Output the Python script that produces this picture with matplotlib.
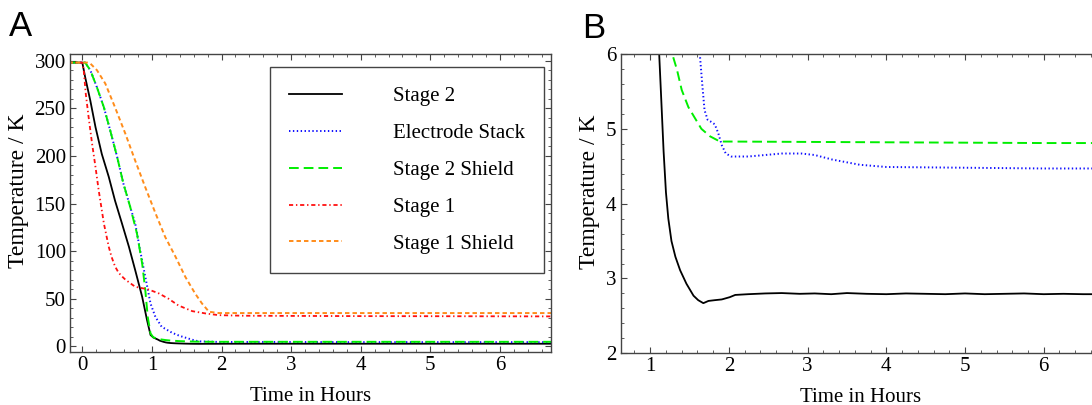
import matplotlib
matplotlib.use("Agg")
import matplotlib.pyplot as plt
from matplotlib.ticker import MultipleLocator

# ---------------- data (time in hours, temperature in K) ----------------
stage2_t = [-0.2, 0.0, 0.04, 0.115, 0.19, 0.28, 0.38, 0.47, 0.57, 0.67, 0.76, 0.86, 0.93, 0.98,
            1.02, 1.06, 1.09, 1.114, 1.14, 1.17, 1.20, 1.23, 1.27, 1.32, 1.38, 1.46, 1.55, 1.61, 1.675,
            1.74, 1.82, 1.91, 2.01, 2.08, 2.245, 2.46, 2.67, 2.9, 3.09, 3.3, 3.5, 3.75, 4.0, 4.25,
            4.5, 4.75, 5.0, 5.25, 5.5, 5.75, 6.0, 6.25, 6.5, 6.75]
stage2_T = [298, 298, 283, 258, 230, 202, 178, 153, 129, 104.5, 80, 52, 27.6, 12,
            9.4, 8.0, 7.0, 6.0, 5.4, 4.7, 4.15, 3.8, 3.5, 3.29, 3.11, 2.93, 2.77, 2.71, 2.67,
            2.70, 2.71, 2.72, 2.75, 2.78, 2.79, 2.80, 2.805, 2.795, 2.80, 2.79, 2.805, 2.795, 2.79,
            2.80, 2.795, 2.79, 2.80, 2.79, 2.795, 2.80, 2.79, 2.795, 2.79, 2.79]

stack_t = [-0.2, 0.04, 0.115, 0.21, 0.31, 0.40, 0.50, 0.59, 0.69, 0.76, 0.83, 0.905, 0.98, 1.05,
           1.14, 1.29, 1.40, 1.50, 1.58, 1.63, 1.66, 1.69, 1.73, 1.78, 1.82, 1.865, 1.91, 1.96,
           2.03, 2.245, 2.46, 2.67, 2.92, 3.09, 3.31, 3.66, 4.0, 4.5, 5.0, 5.5, 6.0, 6.75]
stack_T = [298, 298, 290, 272, 251, 227, 199, 171, 146, 129, 101, 73, 45, 31,
           20.6, 14.3, 11.0, 8.8, 7.0, 6.0, 5.61, 5.25, 5.12, 5.09, 5.06, 4.94, 4.78, 4.67,
           4.63, 4.63, 4.65, 4.67, 4.67, 4.65, 4.59, 4.52, 4.49, 4.485, 4.48, 4.475, 4.47, 4.47]

shield2_t = [-0.2, 0.04, 0.115, 0.21, 0.31, 0.40, 0.50, 0.59, 0.69, 0.785, 0.86, 0.905, 0.94, 0.98,
             1.02, 1.08, 1.14, 1.20, 1.28, 1.34, 1.40, 1.485, 1.57, 1.65, 1.76, 1.886, 1.99, 3.0,
             4.0, 5.0, 6.0, 6.75]
shield2_T = [298, 298, 290, 272, 251, 227, 199, 171, 146, 118.5, 87, 59, 31, 13.6,
             9.5, 8.2, 7.2, 6.6, 6.0, 5.79, 5.52, 5.29, 5.14, 5.0, 4.90, 4.83, 4.83, 4.825,
             4.82, 4.815, 4.81, 4.81]

stage1_t = [-0.2, 0.0, 0.02, 0.05, 0.09, 0.14, 0.19, 0.235, 0.31, 0.38, 0.42, 0.47, 0.52, 0.57,
            0.62, 0.76, 0.95, 1.10, 1.24, 1.38, 1.58, 1.77, 1.96, 2.3, 3.0, 4.0, 5.0, 6.0, 6.75]
stage1_T = [298, 298, 290, 265, 241, 213, 188, 164, 129, 104.5, 94, 84, 77.5, 73.5,
            70, 62.6, 59.8, 55.6, 50, 43, 37, 34.6, 32.8, 32.2, 32.0, 31.8, 31.7, 31.6, 31.5]

shield1_t = [-0.2, 0.08, 0.115, 0.21, 0.33, 0.47, 0.62, 0.76, 0.905, 1.05, 1.19, 1.34, 1.48, 1.62,
             1.72, 1.82, 1.96, 2.3, 3.0, 4.0, 5.0, 6.0, 6.75]
shield1_T = [298, 298, 297, 290, 276, 251, 223, 195, 167, 140, 115, 94, 73, 55.6,
             45, 36.4, 35.0, 35.0, 35.0, 35.0, 35.0, 35.0, 35.0]

labels = ["Stage 2", "Electrode Stack", "Stage 2 Shield", "Stage 1", "Stage 1 Shield"]

# ---------------- style ----------------
plt.rcParams['font.family'] = ['Liberation Serif', 'DejaVu Serif']
plt.rcParams['lines.scale_dashes'] = False
FS = 15
frame_col = '#444444'

styles = [
    dict(color='black', lw=1.3, linestyle='-'),
    dict(color='#1010ff', lw=1.4, linestyle=(0, (1.0, 1.8))),
    dict(color='#00ee00', lw=1.4, linestyle=(0, (7.0, 3.6))),
    dict(color='#ff1010', lw=1.3, linestyle=(0, (3.0, 2.0, 1.0, 2.0))),
    dict(color='#ff8c1a', lw=1.4, linestyle=(0, (3.2, 2.2))),
]
series = [(stage2_t, stage2_T), (stack_t, stack_T), (shield2_t, shield2_T),
          (stage1_t, stage1_T), (shield1_t, shield1_T)]

fig = plt.figure(figsize=(10.92, 4.05), dpi=100)
W, H = 1092.0, 405.0
axA = fig.add_axes([70 / W, 1 - 352.3 / H, 480.7 / W, 298.3 / H])
axB = fig.add_axes([620.7 / W, 1 - 353.3 / H, 480.1 / W, 299.3 / H])


def style_axes(ax):
    for s in ax.spines.values():
        s.set_color(frame_col)
        s.set_linewidth(1.0)
    ax.tick_params(which='both', direction='in', top=True, right=True,
                   color=frame_col, labelsize=FS, pad=3)
    ax.tick_params(which='major', length=4.5, width=0.8)
    ax.tick_params(which='minor', length=2.4, width=0.6)


YL_FS = 17

# Panel A
for (t, T), st, lab in zip(series, styles, labels):
    axA.plot(t, T, label=lab, **st)
axA.set_xlim(-0.177, 6.73)
axA.set_ylim(-6.2, 307)
axA.xaxis.set_major_locator(MultipleLocator(1))
axA.xaxis.set_minor_locator(MultipleLocator(0.2))
axA.yaxis.set_major_locator(MultipleLocator(50))
axA.yaxis.set_minor_locator(MultipleLocator(10))
style_axes(axA)
axA.set_xlabel("Time in Hours", fontsize=FS)
axA.set_ylabel("Temperature / K", fontsize=YL_FS)
axA.xaxis.set_label_coords(0.5, -0.147)
axA.xaxis.label.set_va('center')
axA.yaxis.set_label_coords(-0.108, 0.54)
axA.yaxis.label.set_va('center')

leg = axA.legend(loc='upper left', bbox_to_anchor=(0.416, 0.955), borderaxespad=0,
                 fontsize=FS, handlelength=2.55, handletextpad=2.45, labelspacing=0.83,
                 borderpad=0.92, fancybox=False, framealpha=1, edgecolor=frame_col)
leg.get_frame().set_linewidth(1.0)

# Panel B
for (t, T), st in zip(series[:3], styles[:3]):
    axB.plot(t, T, **st)
axB.set_xlim(0.625, 6.725)
axB.set_ylim(2, 6)
axB.xaxis.set_major_locator(MultipleLocator(1))
axB.xaxis.set_minor_locator(MultipleLocator(0.2))
axB.yaxis.set_major_locator(MultipleLocator(1))
axB.yaxis.set_minor_locator(MultipleLocator(0.2))
style_axes(axB)
axB.set_xlabel("Time in Hours", fontsize=FS)
axB.set_ylabel("Temperature / K", fontsize=YL_FS)
axB.xaxis.set_label_coords(0.5, -0.147)
axB.xaxis.label.set_va('center')
axB.yaxis.set_label_coords(-0.064, 0.54)
axB.yaxis.label.set_va('center')

fig.text(9 / W, 1 - 27 / H, "A", family='Liberation Sans', fontsize=25, ha='left', va='center')
fig.text(582 / W, 1 - 29 / H, "B", family='Liberation Sans', fontsize=25, ha='left', va='center')

fig.savefig("out.png", dpi=100)
